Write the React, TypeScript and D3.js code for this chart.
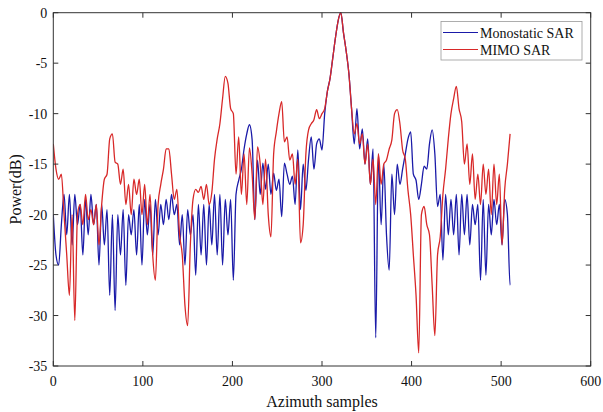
import React from "react";
import * as d3 from "d3";

// sample positions (every 3 azimuth samples)
const samples: number[] = d3.range(0, 511, 3);

const monostatic: number[] = [
  -20, -24, -25, -21, -18, -22, -18, -23, -18, -21, -19,
  -24, -18.5, -22, -18, -21, -19, -25, -19, -23, -19.5, -28,
  -20, -29.5, -20, -24, -19.5, -27, -20, -22, -19.5, -24, -19,
  -25, -18.5, -22, -19, -24, -18.5, -22, -19, -21, -18.5, -20.5,
  -18, -20, -19, -23, -20, -25, -19.5, -22, -20, -26, -19,
  -24, -19, -25, -19, -23, -18, -24, -18, -25, -18.5, -22,
  -18.5, -26.5, -18, -16.6, -15.5, -13.5, -12, -11.1, -12.6, -20.5, -14.6,
  -18, -14.9, -17.5, -15, -18, -15.9, -17.6, -16.5, -20.2, -14.9, -16,
  -17, -16.2, -19, -13.6, -19.5, -15, -17.6, -14.5, -12.3, -15.5, -13,
  -12.5, -13.6, -10, -7.8, -6.5, -4.5, -2.5, -0.8, 0, -2, -3.8,
  -6, -9.5, -13, -9.5, -13.5, -11.5, -15, -12.5, -17, -13.5, -32.2,
  -14, -21, -15, -22, -25.5, -16, -20, -15, -17, -15.5, -14,
  -12.5, -11.8, -16, -16.6, -18.5, -17, -15.2, -15.5, -13, -11.6, -14,
  -19.2, -18, -24.5, -18, -22, -18.5, -22, -18, -24, -18, -22,
  -18, -23, -19, -21, -19, -26.5, -18.5, -26, -19, -22, -18.5,
  -21, -19, -23, -18.5, -20, -27, -21
];

const mimo: number[] = [
  -13, -15.5, -16.5, -16, -20, -24, -28, -20, -30.5, -20, -19,
  -21, -18, -20.5, -19.5, -21, -19, -23, -19, -16.5, -16, -12.5,
  -12, -14.8, -15, -17, -15.5, -19, -17, -20, -16.5, -18, -16.5,
  -20, -17, -21, -18, -24, -26.5, -19, -17, -15.5, -13.5, -13.5,
  -16, -18.5, -17.5, -22, -24, -29, -31, -23, -18.5, -17.5, -17.8,
  -17.2, -18.5, -17, -19, -17.8, -14.5, -12.5, -11, -8.5, -6.3, -7,
  -9.5, -10, -16, -12.3, -18, -14, -19, -13.4, -16, -20.5, -13.3,
  -15, -19, -14.5, -20, -22.2, -14, -11.8, -10, -8.8, -12.8, -12.3,
  -14.6, -14, -17, -14.5, -22.8, -21, -14, -11.6, -11, -10.6, -9.6,
  -10.5, -10, -9.5, -7.8, -6.5, -4.5, -2.5, -0.8, 0, -2, -3.8,
  -6, -9.5, -12, -11, -13, -12, -15, -13, -17, -14.5, -19,
  -14, -17, -15, -14.6, -13.5, -12.6, -10, -9.6, -11, -13.6, -14.5,
  -17.6, -20, -24, -28, -33.7, -20, -19.2, -21, -22, -27, -32,
  -24, -22.2, -18, -15.5, -12.5, -10, -8.5, -7.3, -9.5, -10.8, -15,
  -13, -17, -14, -18.5, -16, -19, -15, -18, -15.5, -20, -15,
  -19, -16, -23, -17.5, -15, -12
];

const xTicks: number[] = [0, 100, 200, 300, 400, 500, 600];
const yTicks: number[] = [0, -5, -10, -15, -20, -25, -30, -35];
const seriesNames: string[] = ["Monostatic SAR", "MIMO SAR"];
const seriesColors: string[] = ["#1a1aa8", "#d82828"];

export default function App() {
  const W = 603, H = 412;
  const L = 53.3, R = 590.7, T = 12.7, B = 366;
  const x = d3.scaleLinear().domain([0, 600]).range([L, R]);
  const y = d3.scaleLinear().domain([-35, 0]).range([B, T]);
  const line = d3
    .line<number>()
    .x((_, i) => x(samples[i]))
    .y((d) => y(d))
    .curve(d3.curveMonotoneX);
  const font = "'Liberation Serif', 'Times New Roman', serif";
  const series = [monostatic, mimo];
  return (
    <svg width={W} height={H} style={{ position: "absolute", left: 0, top: 0, background: "#fff" }} fontFamily={font}>
      <defs>
        <clipPath id="plot">
          <rect x={L} y={T - 1} width={R - L} height={B - T + 2} />
        </clipPath>
      </defs>
      <g clipPath="url(#plot)">
        {series.map((s, k) => (
          <path key={k} d={line(s) || ""} fill="none" stroke={seriesColors[k]} strokeWidth={1.3} strokeLinejoin="round" />
        ))}
      </g>
      <rect x={L} y={T} width={R - L} height={B - T} fill="none" stroke="#333" strokeWidth={1} />
      {xTicks.map((t) => (
        <g key={"x" + t}>
          <line x1={x(t)} x2={x(t)} y1={B} y2={B - 5} stroke="#333" />
          <line x1={x(t)} x2={x(t)} y1={T} y2={T + 5} stroke="#333" />
          <text x={x(t)} y={B + 20} fontSize={14} textAnchor="middle" fill="#111">{t}</text>
        </g>
      ))}
      {yTicks.map((t) => (
        <g key={"y" + t}>
          <line x1={L} x2={L + 5} y1={y(t)} y2={y(t)} stroke="#333" />
          <line x1={R} x2={R - 5} y1={y(t)} y2={y(t)} stroke="#333" />
          <text x={L - 6} y={y(t) + 5} fontSize={14} textAnchor="end" fill="#111">{t}</text>
        </g>
      ))}
      <text x={(L + R) / 2} y={407} fontSize={16} textAnchor="middle" fill="#111">Azimuth samples</text>
      <text transform={`translate(21,${(T + B) / 2}) rotate(-90)`} fontSize={16} textAnchor="middle" fill="#111">Power(dB)</text>
      <g>
        <rect x={441} y={21.5} width={141} height={38.5} fill="#fff" stroke="#999" strokeWidth={0.8} />
        {seriesNames.map((n, k) => (
          <g key={n}>
            <line x1={443} x2={478} y1={32.5 + k * 17} y2={32.5 + k * 17} stroke={seriesColors[k]} strokeWidth={1.2} />
            <text x={480} y={37.5 + k * 17} fontSize={14} fill="#111">{n}</text>
          </g>
        ))}
      </g>
    </svg>
  );
}
